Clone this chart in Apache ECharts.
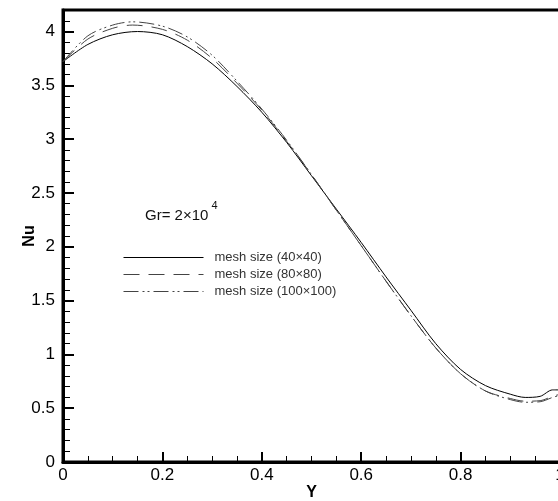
<!DOCTYPE html>
<html>
<head>
<meta charset="utf-8">
<script src="https://cdn.jsdelivr.net/npm/echarts@6/dist/echarts.min.js"></script>
<style>html,body{margin:0;padding:0;background:#fff}#c{width:558px;height:501px}</style>
</head>
<body>
<div id="c"></div>
<script>
var seriesNames = ['mesh size (40×40)', 'mesh size (80×80)', 'mesh size (100×100)'];
var xMesh40 = [0, 0.05, 0.1, 0.15, 0.2, 0.25, 0.3, 0.35, 0.4, 0.45, 0.5, 0.55, 0.6, 0.65, 0.7, 0.75, 0.8, 0.85, 0.9, 0.93, 0.96, 0.985, 1.0];
var nuMesh40 = [3.72, 3.88, 3.97, 4.00, 3.97, 3.86, 3.70, 3.49, 3.25, 2.97, 2.66, 2.35, 2.04, 1.72, 1.41, 1.10, 0.86, 0.71, 0.63, 0.60, 0.61, 0.67, 0.67];
var xMesh80 = [0, 0.05, 0.1, 0.14, 0.2, 0.25, 0.3, 0.35, 0.4, 0.45, 0.5, 0.55, 0.6, 0.65, 0.7, 0.75, 0.8, 0.85, 0.9, 0.93, 0.96, 0.985, 1.0];
var nuMesh80 = [3.72, 3.93, 4.03, 4.06, 4.02, 3.92, 3.75, 3.52, 3.27, 2.98, 2.67, 2.34, 2.01, 1.68, 1.36, 1.06, 0.82, 0.66, 0.59, 0.565, 0.57, 0.61, 0.63];
var xMesh100 = [0, 0.05, 0.1, 0.14, 0.2, 0.25, 0.3, 0.35, 0.4, 0.45, 0.5, 0.55, 0.6, 0.65, 0.7, 0.75, 0.8, 0.85, 0.9, 0.93, 0.96, 0.985, 1.0];
var nuMesh100 = [3.72, 3.96, 4.06, 4.09, 4.05, 3.95, 3.78, 3.54, 3.28, 2.99, 2.67, 2.34, 2.01, 1.68, 1.36, 1.06, 0.82, 0.66, 0.58, 0.555, 0.56, 0.60, 0.62];

function pairs(xs, ys) { return xs.map(function (x, i) { return [x, ys[i]]; }); }

var chart = echarts.init(document.getElementById('c'));
var font = 'Liberation Sans, Arial, sans-serif';
var dash80 = [16, 9];
var dash100 = [15, 4, 2, 3, 2, 4];
chart.setOption({
  animation: false,
  backgroundColor: '#fff',
  grid: { left: 63, top: 10, width: 497, bottom: 39, containLabel: false, outerBoundsMode: 'none',
    show: true, borderColor: '#000', borderWidth: 3, backgroundColor: 'transparent' },
  xAxis: {
    type: 'value', min: 0, max: 1, interval: 0.2,
    name: 'Y', nameLocation: 'middle', nameGap: 23, nameMoveOverlap: false,
    nameTextStyle: { fontFamily: font, fontSize: 16, fontWeight: 'bold', color: '#000' },
    axisLine: { show: true, lineStyle: { color: '#000', width: 3 } },
    axisTick: { show: true, inside: true, length: 10, lineStyle: { color: '#000', width: 2 } },
    minorTick: { show: true, splitNumber: 4, length: 6, lineStyle: { color: '#000', width: 1 } },
    splitLine: { show: false },
    axisLabel: { fontFamily: font, fontSize: 17, color: '#000', margin: 5,
      formatter: function (v) { return String(Math.round(v * 10) / 10); } }
  },
  yAxis: [{
    type: 'value', min: 0, max: 4.2, interval: 0.5,
    name: 'Nu', nameLocation: 'middle', nameGap: 25, nameMoveOverlap: false,
    nameTextStyle: { fontFamily: font, fontSize: 16, fontWeight: 'bold', color: '#000' },
    axisLine: { show: true, lineStyle: { color: '#000', width: 3 } },
    axisTick: { show: true, inside: true, length: 11, lineStyle: { color: '#000', width: 2 } },
    splitLine: { show: false },
    axisLabel: { fontFamily: font, fontSize: 17, color: '#000', margin: 8, showMaxLabel: false,
      formatter: function (v) { return String(Math.round(v * 10) / 10); } }
  }, {
    type: 'value', min: 0, max: 4.2, interval: 0.1, position: 'left',
    axisLine: { show: false },
    axisTick: { show: true, inside: true, length: 7, lineStyle: { color: '#000', width: 1 } },
    splitLine: { show: false },
    axisLabel: { show: false }
  }],
  legend: {
    orient: 'vertical', left: 118, top: 246, itemGap: 4, itemWidth: 80, itemHeight: 13,
    data: seriesNames,
    itemStyle: { opacity: 0 },
    lineStyle: { width: 1 },
    textStyle: { fontFamily: font, fontSize: 13, color: '#333', padding: [0, 0, 0, 6] }
  },
  graphic: [{
    type: 'text', left: 145, top: 200,
    style: {
      text: '{b|Gr= 2×10}{s|4}',
      rich: {
        b: { fontFamily: font, fontSize: 15, fill: '#111', verticalAlign: 'bottom' },
        s: { fontFamily: font, fontSize: 11, fill: '#111', padding: [0, 0, 12, 3] }
      }
    }
  }],
  series: [{
    name: seriesNames[0], type: 'line', smooth: 0.3, symbol: 'none', yAxisIndex: 0,
    data: pairs(xMesh40, nuMesh40),
    lineStyle: { color: '#000', width: 1, type: 'solid' }, itemStyle: { color: '#000' }
  }, {
    name: seriesNames[1], type: 'line', smooth: 0.3, symbol: 'none', yAxisIndex: 0,
    data: pairs(xMesh80, nuMesh80),
    lineStyle: { color: '#444', width: 1, type: dash80 }, itemStyle: { color: '#444' }
  }, {
    name: seriesNames[2], type: 'line', smooth: 0.3, symbol: 'none', yAxisIndex: 0,
    data: pairs(xMesh100, nuMesh100),
    lineStyle: { color: '#444', width: 1, type: dash100 }, itemStyle: { color: '#444' }
  }]
});
</script>
</body>
</html>
